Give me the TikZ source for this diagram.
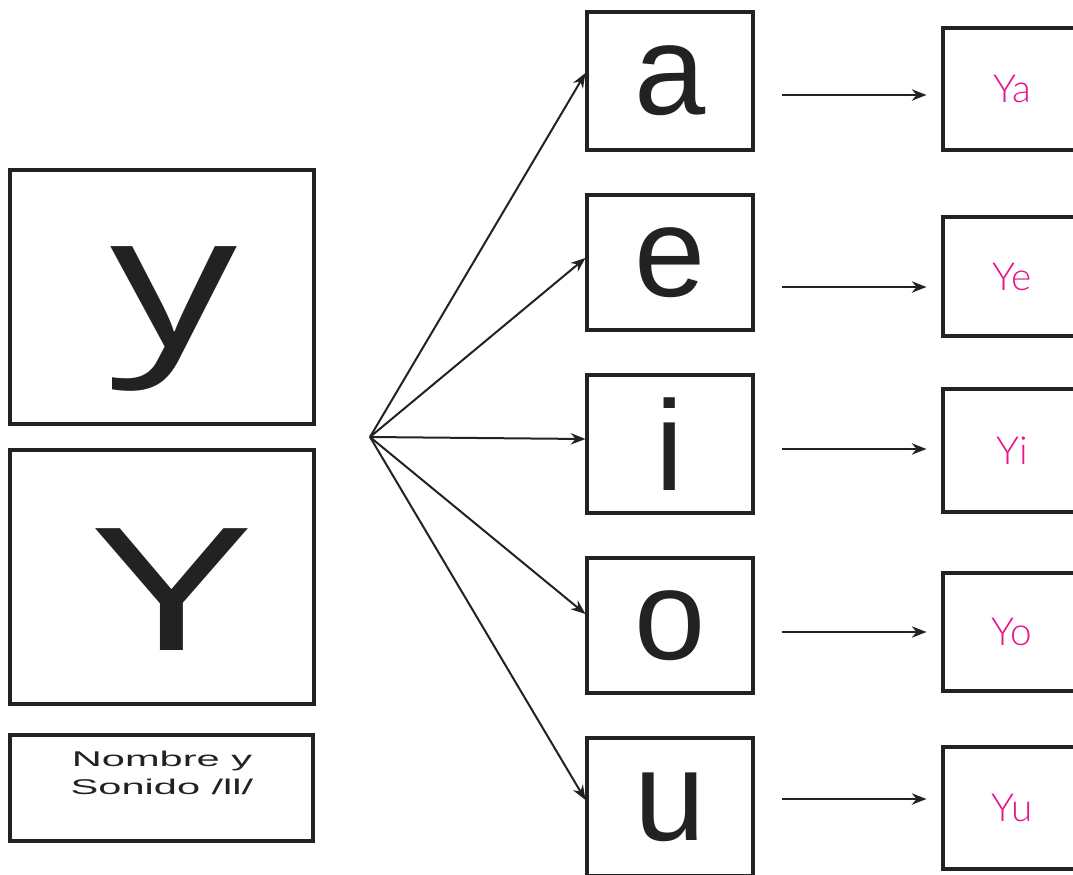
\documentclass[tikz,border=0pt]{standalone}
\usepackage{fontspec}
\usepackage{graphicx}
\setmainfont{Liberation Sans}
\newfontfamily\bigfont{Open Sans}
\newfontfamily\pinkfont{Lato}[UprightFont={* Light}]
\usetikzlibrary{calc,arrows.meta}
\definecolor{ink}{HTML}{222222}
\definecolor{pinky}{HTML}{E8168B}
\begin{document}
\begin{tikzpicture}[x=0.75pt,y=-0.75pt,
  box/.style={draw=ink, line width=2.3pt, inner sep=0pt, fill=white},
  bigbox/.style={box, minimum width=228pt, minimum height=190.5pt, text=ink},
  vowel/.style={box, minimum width=124.5pt, font=\fontsize{96}{96}\selectfont, text=ink},
  sylbox/.style={box, minimum width=103.5pt, font=\pinkfont\fontsize{29}{29}\selectfont, text=pinky},
  arr/.style={draw=ink, line width=1.5pt, -{Stealth[length=11pt,width=8.5pt]}}
]
\useasboundingbox (0,0) rectangle (1073,874);
\fill[white] (0,0) rectangle (1073,874);

% left boxes
\node[bigbox, font=\bigfont\fontsize{140}{140}\selectfont] (ysmall) at (162,297)
  {\raisebox{-36.75pt}[0pt][0pt]{\hspace{18pt}\scalebox{1.35}[1]{y}}};
\node[bigbox, font=\bigfont\fontsize{128}{128}\selectfont] (ybig) at (162,577)
  {\raisebox{-54.75pt}[0pt][0pt]{\hspace{15pt}\scalebox{1.6}[1]{Y}}};
\node[box, minimum width=227.25pt, minimum height=79.5pt] (nombre) at (161.5,788) {};
\node[align=center, inner sep=0pt, font=\fontsize{16}{21}\selectfont, text=ink] (nombretxt) at (162,773)
  {\scalebox{1.95}[1]{Nombre y}\\\scalebox{1.95}[1]{Sonido /ll/}};

% vowel boxes
\node[vowel, minimum height=103.5pt] (a) at (670,81) {a};
\node[vowel, minimum height=101.25pt] (e) at (670,262.5) {e};
\node[vowel, minimum height=103.5pt] (i) at (670,444) {i};
\node[vowel, minimum height=101.25pt] (o) at (670,625.5) {o};
\node[vowel, minimum height=103.5pt] (u) at (670,807) {u};

% syllable boxes
\node[sylbox, minimum height=91.5pt] (Ya) at (1012,89) {Ya};
\node[sylbox, minimum height=89.25pt] (Ye) at (1012,276.5) {Ye};
\node[sylbox, minimum height=92.25pt] (Yi) at (1012,450.5) {Yi};
\node[sylbox, minimum height=88.5pt] (Yo) at (1012,632) {Yo};
\node[sylbox, minimum height=91.5pt] (Yu) at (1012,808) {Yu};

% fan of arrows
\coordinate (src) at (370,437);
\draw[arr] (src) -- ([yshift=6pt]a.west);
\draw[arr] (src) -- ([yshift=3.4pt]e.west);
\draw[arr] (src) -- ([yshift=3.75pt]i.west);
\draw[arr] (src) -- ([yshift=8.6pt]o.west);
\draw[arr] (src) -- ([yshift=5.25pt]u.west);

% horizontal arrows
\draw[arr] ($(a.east)+(27,14)$) -- ($(Ya.west)+(-15,6)$);
\draw[arr] ($(e.east)+(27,24.5)$) -- ($(Ye.west)+(-15,10.5)$);
\draw[arr] ($(i.east)+(27,5)$) -- ($(Yi.west)+(-15,-1.5)$);
\draw[arr] ($(o.east)+(27,6.5)$) -- ($(Yo.west)+(-15,0)$);
\draw[arr] ($(u.east)+(27,-8)$) -- ($(Yu.west)+(-15,-9)$);
\end{tikzpicture}
\end{document}
